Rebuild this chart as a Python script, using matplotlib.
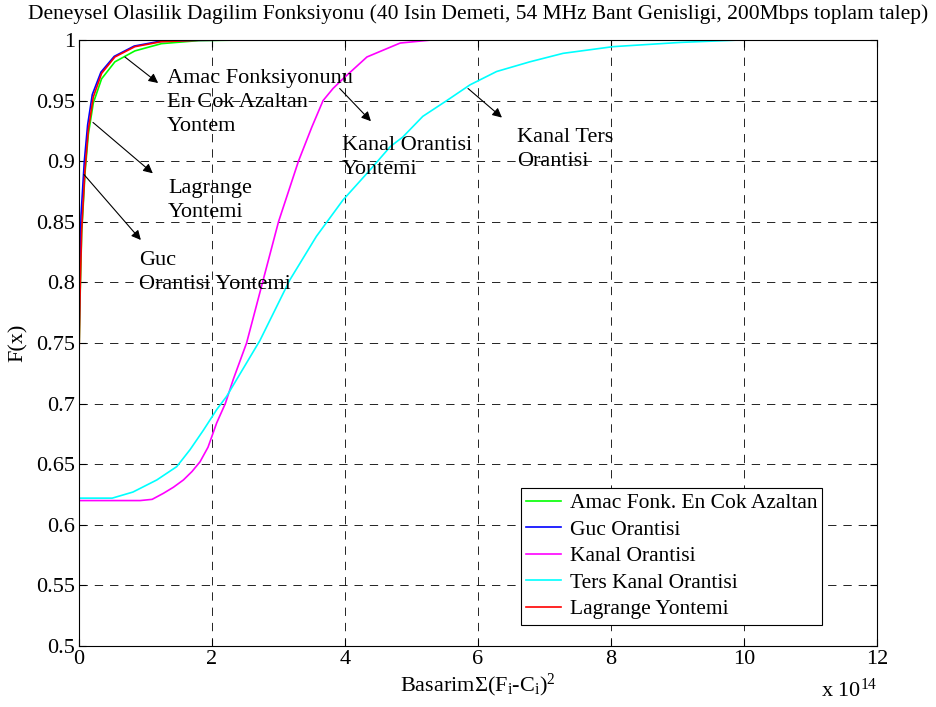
import numpy as np
import matplotlib
matplotlib.use('Agg')
import matplotlib.pyplot as plt

# x values in units of 1e14
amac_x = [0, 0, 0.015, 0.04, 0.09, 0.14, 0.215, 0.34, 0.54, 0.84, 1.24, 1.8, 2.5]
amac_y = [0, 0.74, 0.785, 0.84, 0.89, 0.922, 0.948, 0.968, 0.982, 0.991, 0.997, 0.9995, 1.0]

guc_x = [0, 0, 0.01, 0.03, 0.08, 0.13, 0.2, 0.33, 0.53, 0.83, 1.2, 1.7, 2.5, 3.55]
guc_y = [0, 0.75, 0.80, 0.855, 0.9, 0.93, 0.955, 0.9735, 0.9865, 0.995, 0.9988, 0.9997, 1.0, 1.0]

kanal_x = [0, 0.92, 1.1, 1.27, 1.42, 1.57, 1.7, 1.82, 1.94, 2.07, 2.2, 2.32, 2.52, 2.76,
           3.0, 3.3, 3.5, 3.67, 3.82, 3.97, 4.33, 4.83, 5.3, 6.7]
kanal_y = [0.62, 0.62, 0.621, 0.626, 0.631, 0.637, 0.644, 0.652, 0.664, 0.684, 0.70, 0.72,
           0.75, 0.80, 0.85, 0.90, 0.928, 0.95, 0.96, 0.968, 0.986, 0.9975, 1.0, 1.0]

ters_x = [0, 0.5, 0.81, 1.17, 1.47, 1.67, 1.87, 2.07, 2.22, 2.72, 3.17, 3.57, 3.97, 4.38,
          4.68, 4.87, 5.17, 5.53, 5.88, 6.28, 6.78, 7.28, 8.03, 9.04, 9.94, 11.44]
ters_y = [0.622, 0.622, 0.627, 0.637, 0.648, 0.662, 0.678, 0.695, 0.706, 0.752, 0.802, 0.838,
          0.868, 0.893, 0.912, 0.92, 0.937, 0.95, 0.963, 0.974, 0.982, 0.989, 0.9945, 0.998,
          1.0, 1.0]

lag_x = [0, 0, 0.015, 0.04, 0.09, 0.14, 0.215, 0.34, 0.54, 0.84, 1.24, 1.8, 2.87]
lag_y = [0, 0.736, 0.788, 0.843, 0.893, 0.926, 0.953, 0.9725, 0.986, 0.9945, 0.9986, 0.9998, 1.0]

x_ticks = [0, 2, 4, 6, 8, 10, 12]
y_ticks = [0.5, 0.55, 0.6, 0.65, 0.7, 0.75, 0.8, 0.85, 0.9, 0.95, 1.0]
y_tick_labels = ['0.5', '0.55', '0.6', '0.65', '0.7', '0.75', '0.8', '0.85', '0.9', '0.95', '1']

# annotation: text, text position, arrow tail, arrow head
notes = [
    ('Amac Fonksiyonunu\nEn Cok Azaltan\nYontem', (1.32, 0.976), (0.69, 0.986), (1.19, 0.9645)),
    ('Lagrange\nYontemi', (1.34, 0.885), (0.21, 0.932), (1.11, 0.890)),
    ('Guc\nOrantisi Yontemi', (0.90, 0.826), (0.075, 0.889), (0.93, 0.835)),
    ('Kanal Orantisi\nYontemi', (3.95, 0.921), (3.92, 0.960), (4.39, 0.933)),
    ('Kanal Ters\nOrantisi', (6.59, 0.927), (5.85, 0.960), (6.36, 0.936)),
]

plt.rcParams['font.family'] = 'Liberation Serif'
plt.rcParams['lines.scale_dashes'] = False
plt.rcParams['mathtext.fontset'] = 'custom'
plt.rcParams['mathtext.rm'] = 'Liberation Serif'
plt.rcParams['mathtext.it'] = 'Liberation Serif'

fig = plt.figure(figsize=(9.36, 7.07), dpi=100)
ax = fig.add_axes([79 / 936, 1 - 646 / 707, 798 / 936, 606 / 707])

ax.plot(amac_x, amac_y, color='#00ff00', lw=1.2, label='Amac Fonk. En Cok Azaltan')
ax.plot(guc_x, guc_y, color='#0000ff', lw=1.2, label='Guc Orantisi')
ax.plot(kanal_x, kanal_y, color='#ff00ff', lw=1.2, label='Kanal Orantisi')
ax.plot(ters_x, ters_y, color='#00ffff', lw=1.2, label='Ters Kanal Orantisi')
ax.plot(lag_x, lag_y, color='#ff0000', lw=1.2, label='Lagrange Yontemi')

ax.set_xlim(0, 12)
ax.set_ylim(0.5, 1.0)
ax.set_xticks(x_ticks)
ax.set_xticklabels([str(t) for t in x_ticks])
ax.set_yticks(y_ticks)
ax.set_yticklabels(y_tick_labels)
ax.tick_params(direction='in', top=True, right=True, labelsize=16, length=5, width=0.8, pad=3)
ax.grid(True, color='black', linestyle=(0, (6, 5)), linewidth=0.6)
for s in ax.spines.values():
    s.set_linewidth(0.8)

for txt, tpos, tail, head in notes:
    ax.annotate('', xy=head, xytext=tail,
                arrowprops=dict(arrowstyle='-|>', color='black', lw=0.8,
                                mutation_scale=14, shrinkA=0, shrinkB=0))
    ax.text(tpos[0], tpos[1], txt, ha='left', va='top', fontsize=16, linespacing=1.35)

ax.set_title('Deneysel Olasilik Dagilim Fonksiyonu (40 Isin Demeti, 54 MHz Bant Genisligi, 200Mbps toplam talep)',
             fontsize=15.5, pad=15)
ax.set_xlabel(r'Basarim$\Sigma$(F$_{\rm i}$-C$_{\rm i}$)$^2$', fontsize=16, labelpad=2)
ax.set_ylabel('F(x)', fontsize=16, labelpad=6)
ax.text(1.0, -0.0726, r'x 10$^{14}$', transform=ax.transAxes, ha='right', va='center', fontsize=16)

leg = ax.legend(loc='lower right', bbox_to_anchor=(0.9316, 0.035), fontsize=15.5,
                frameon=True, fancybox=False, edgecolor='black', framealpha=1,
                handlelength=1.6, handletextpad=0.4, labelspacing=0.3, borderpad=0.25,
                borderaxespad=0)
leg.get_frame().set_linewidth(0.8)

fig.savefig('out.png', dpi=100)
